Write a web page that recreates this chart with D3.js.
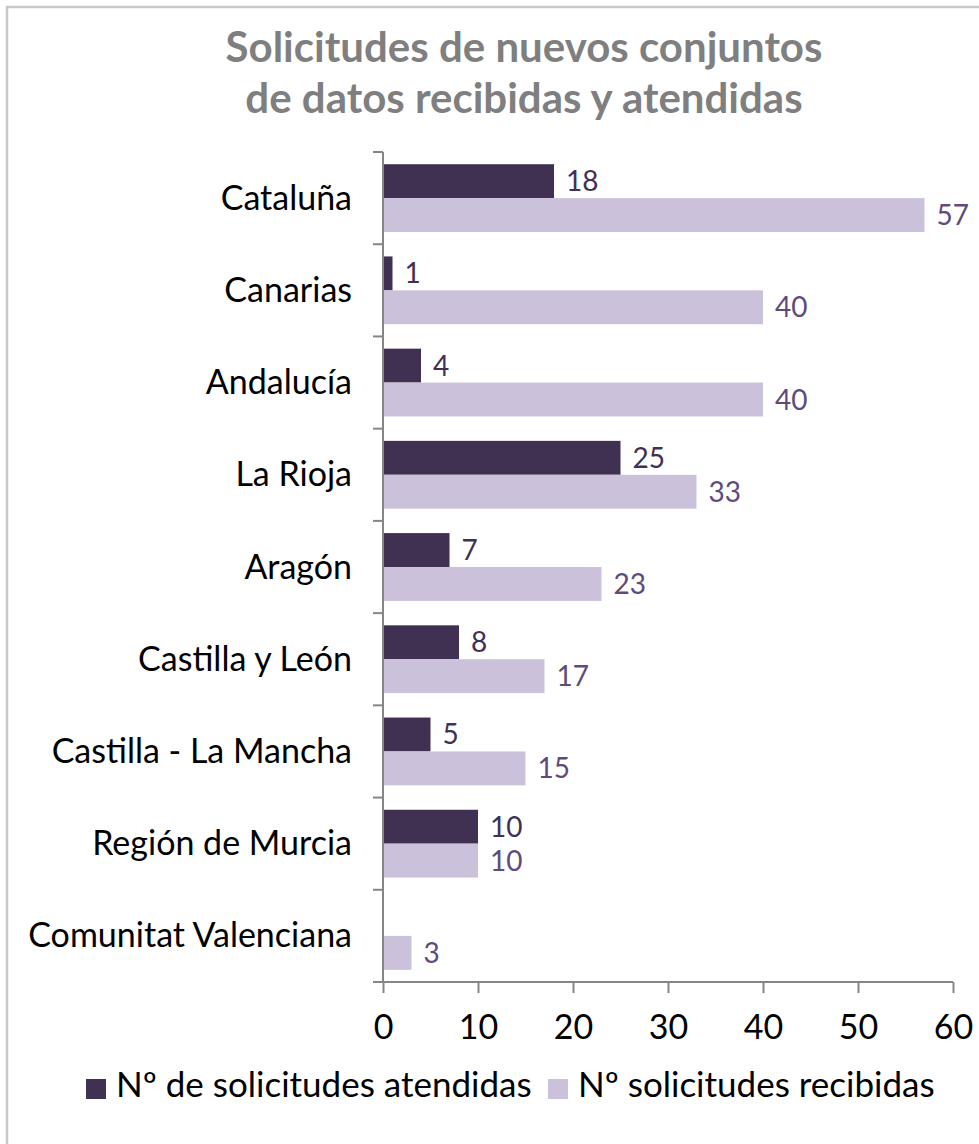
<!DOCTYPE html>
<html><head><meta charset="utf-8">
<script src="https://cdn.jsdelivr.net/npm/d3@7"></script>
<style>body{margin:0;background:#fff}svg{display:block}</style>
</head><body>
<svg id="c" width="979" height="1144"></svg>
<script>
const categories = ["Cataluña","Canarias","Andalucía","La Rioja","Aragón","Castilla y León","Castilla - La Mancha","Región de Murcia","Comunitat Valenciana"];
const atendidas = [18,1,4,25,7,8,5,10,null];
const recibidas = [57,40,40,33,23,17,15,10,3];
const xTicks = [0,10,20,30,40,50,60];
const seriesNames = ["Nº de solicitudes atendidas","Nº solicitudes recibidas"];
const titleLines = ["Solicitudes de nuevos conjuntos","de datos recibidas y atendidas"];

const font = "Lato, 'Open Sans', sans-serif";
const svg = d3.select("#c");
const colDark = "#403152", colLight = "#ccc1da";
const labDark = "#403152", labLight = "#604a7b";

// border
svg.append("path").attr("d","M7,1144 V7 H979").attr("fill","none").attr("stroke","#c9c9c9").attr("stroke-width",2.5);

// title
svg.selectAll("text.title").data(titleLines).join("text")
  .attr("x",524).attr("y",(d,i)=>62+i*51).attr("text-anchor","middle")
  .attr("font-family",font).attr("font-weight","bold").attr("font-size",42).attr("fill","#7f7f7f").text(d=>d);

const x = d3.scaleLinear().domain([0,60]).range([383,953]);
const y = d3.scaleBand().domain(categories).range([152,982]).paddingInner(0).paddingOuter(0);
const inner = d3.scaleBand().domain([0,1]).range([0,y.bandwidth()]).paddingOuter(0.36).paddingInner(0);

const g = svg.append("g");
const series = [atendidas, recibidas];
series.forEach((vals,si)=>{
  const col = si===0?colDark:colLight;
  const data = categories.map((c,i)=>({c,v:vals[i]})).filter(d=>d.v!=null);
  g.selectAll("rect.s"+si).data(data).join("rect")
    .attr("x",x(0)).attr("y",d=>y(d.c)+inner(si)).attr("width",d=>x(d.v)-x(0)).attr("height",inner.bandwidth())
    .attr("fill",col);
  g.selectAll("text.l"+si).data(data).join("text")
    .attr("x",d=>x(d.v)+12).attr("y",d=>y(d.c)+inner(si)+inner.bandwidth()/2+10)
    .attr("font-family",font).attr("font-size",28).attr("fill",si===0?labDark:labLight).text(d=>d.v);
});

// y axis
const yAxis = d3.axisLeft(y).tickSize(0).tickPadding(31);
const ya = svg.append("g").attr("transform","translate(383,0)").call(yAxis);
ya.select(".domain").remove();
ya.selectAll("text").attr("font-family",font).attr("font-size",34).attr("fill","#000").attr("dy","0.34em");
const edges = categories.map(c=>y(c)).concat([y.range()[1]]);
svg.append("g").selectAll("line").data(edges).join("line")
  .attr("x1",373).attr("x2",383).attr("y1",d=>d).attr("y2",d=>d).attr("stroke","#868686").attr("stroke-width",2);
svg.append("line").attr("x1",383).attr("x2",383).attr("y1",152).attr("y2",982).attr("stroke","#868686").attr("stroke-width",2);

// x axis
const xAxis = d3.axisBottom(x).tickValues(xTicks).tickSize(11).tickPadding(22).tickFormat(d3.format("d"));
const xa = svg.append("g").attr("transform","translate(0,982)").call(xAxis);
xa.select(".domain").attr("stroke","#868686").attr("stroke-width",2).attr("d","M383,0H953");
xa.selectAll(".tick line").attr("stroke","#868686").attr("stroke-width",2);
xa.selectAll("text").attr("font-family",font).attr("font-size",34).attr("fill","#000");

// legend
const leg = svg.append("g");
const legX = [86, 548];
seriesNames.forEach((n,i)=>{
  leg.append("rect").attr("x",legX[i]).attr("y",1079).attr("width",20).attr("height",20).attr("fill",i===0?colDark:colLight);
  leg.append("text").attr("x",legX[i]+30).attr("y",1097).attr("font-family",font).attr("font-size",35).attr("fill","#000").text(n);
});
</script>
</body></html>
